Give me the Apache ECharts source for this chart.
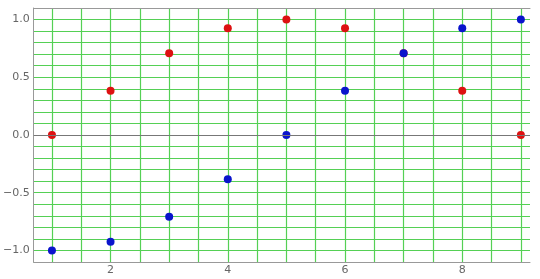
<!DOCTYPE html>
<html><head><meta charset="utf-8">
<script src="https://cdn.jsdelivr.net/npm/echarts@6/dist/echarts.min.js"></script>
<style>html,body{margin:0;padding:0;background:#fff}#c{width:540px;height:279px}</style>
</head><body><div id="c"></div>
<script>
const xValues = [1, 2, 3, 4, 5, 6, 7, 8, 9];
const redValues = [0, 0.383, 0.707, 0.924, 1, 0.924, 0.707, 0.383, 0];
const blueValues = [-1, -0.924, -0.707, -0.383, 0, 0.383, 0.707, 0.924, 1];
const xGridValues = [1, 1.5, 2, 2.5, 3, 3.5, 4, 4.5, 5, 5.5, 6, 6.5, 7, 7.5, 8, 8.5, 9];
const xTickLabels = [2, 4, 6, 8];
const yTickLabels = [-1, -0.5, 0, 0.5, 1];

const chart = echarts.init(document.getElementById('c'), null, {renderer: 'canvas'});
const green = '#55d055';
chart.setOption({
  animation: false,
  grid: {left: 32, right: 10, top: 8, bottom: 17},
  xAxis: [{
    type: 'value', min: 0.689, max: 9.156,
    axisLine: {show: true, onZero: false, lineStyle: {color: '#999', width: 1}},
    axisTick: {show: false, customValues: xGridValues},
    splitLine: {show: true, lineStyle: {color: green, width: 1.2}},
    axisLabel: {customValues: xTickLabels, color: '#666', fontSize: 11, margin: 3, fontFamily: 'DejaVu Sans'}
  }, {
    type: 'value', position: 'top', min: 0.689, max: 9.156,
    axisLine: {show: true, onZero: false, lineStyle: {color: '#999', width: 1}},
    axisTick: {show: false}, axisLabel: {show: false}, splitLine: {show: false}
  }],
  yAxis: {
    type: 'value', min: -1.1, max: 1.1, interval: 0.1,
    axisLine: {show: true, onZero: false, lineStyle: {color: '#999', width: 1}},
    axisTick: {show: false},
    splitLine: {show: true, lineStyle: {color: green, width: 1.2}},
    axisLabel: {
      customValues: yTickLabels, color: '#666', fontSize: 11, margin: 4, fontFamily: 'DejaVu Sans',
      formatter: v => (v < 0 ? '\u2212' : '') + Math.abs(v).toFixed(1)
    }
  },
  series: [{
    type: 'scatter', symbolSize: 8, itemStyle: {color: '#dd1111', opacity: 1},
    data: xValues.map((x, i) => [x, redValues[i]]),
    markLine: {silent: true, symbol: 'none', label: {show: false},
      lineStyle: {color: '#777', type: 'solid', width: 1}, data: [{yAxis: 0}]},
    z: 3
  }, {
    type: 'scatter', symbolSize: 8, itemStyle: {color: '#0a14cc', opacity: 1},
    data: xValues.map((x, i) => [x, blueValues[i]]),
    z: 4
  }]
});
</script></body></html>
